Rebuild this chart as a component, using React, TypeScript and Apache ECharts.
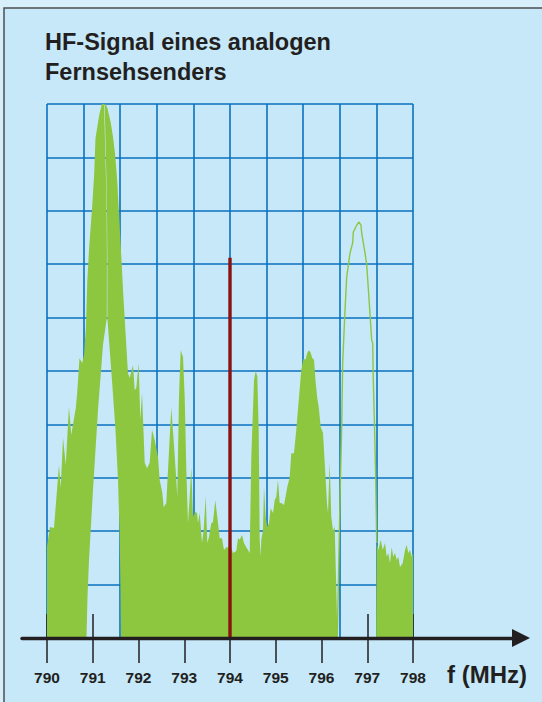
import React, { useEffect, useRef } from "react";
import * as echarts from "echarts";

// Frequency axis (MHz)
const freqMin = 790;
const freqMax = 798;
const freqStep = 1;

// Spectrum outline (path order, MHz / relative level 0..100)
const specF = [
  790.0, 790.0, 790.066, 790.153, 790.21, 790.262, 790.3, 790.35, 790.41, 790.48, 790.53, 790.63, 790.66,
  790.71, 790.77, 790.81, 790.85, 790.88, 790.92, 790.99, 791.03, 791.06, 791.14, 791.2, 791.245,
  791.3, 791.31, 791.307, 791.224, 791.115, 791.005, 790.918, 790.885, 790.863,
  791.617, 791.607, 791.585, 791.552, 791.497, 791.42, 791.355, 791.32, 791.32, 791.309, 791.259,
  791.318, 791.392, 791.443, 791.486, 791.537, 791.611, 791.668, 791.72, 791.77, 791.808, 791.88,
  791.917, 791.952, 792.004, 792.039, 792.077, 792.136, 792.186, 792.245, 792.295, 792.354, 792.426,
  792.463, 792.52, 792.551, 792.608, 792.645, 792.717, 792.776, 792.826, 792.848, 792.885, 792.922,
  792.973, 793.01, 793.045, 793.082, 793.119, 793.154, 793.191, 793.242, 793.279, 793.301, 793.338,
  793.388, 793.425, 793.469, 793.504, 793.541, 793.591, 793.628, 793.679, 793.738, 793.775, 793.825,
  793.869, 793.919, 793.956, 794.028, 794.066, 794.138, 794.175, 794.212, 794.262, 794.306, 794.356,
  794.393, 794.431, 794.466, 794.525, 794.562, 794.597, 794.627, 794.649, 794.671, 794.684, 794.721,
  794.743, 794.78, 794.815, 794.852, 794.89, 794.94, 794.977, 795.012, 795.049, 795.086, 795.121,
  795.18, 795.209, 795.252, 795.305, 795.34, 795.399, 795.449, 795.508, 795.559, 795.602, 795.655,
  795.69, 795.727, 795.764, 795.799, 795.836, 795.873, 795.908, 795.939, 795.983, 796.033, 796.07,
  796.12, 796.142, 796.179, 796.214, 796.251, 796.288, 796.324, 796.345, 796.361,
  797.196, 797.207, 797.242, 797.294, 797.338, 797.388, 797.425, 797.46, 797.497, 797.534, 797.569,
  797.607, 797.644, 797.679, 797.716, 797.775, 797.825, 797.862, 797.897, 797.934, 797.972, 798.0, 798.0,
];
const specV = [
  0, 17.2, 20.8, 20.6, 26.8, 32.4, 28.1, 37.5, 32.4, 43.3, 38.0, 43.1, 45.9,
  52.4, 51.5, 53.0, 58.1, 66.7, 73.0, 81.1, 86.7, 93.6, 97.9, 100.0, 100.5,
  82.4, 71.2, 59.9, 54.9, 42.7, 27.7, 14.6, 7.7, 0,
  0, 9.0, 20.2, 29.6, 39.0, 48.3, 55.8, 59.9, 71.2, 82.4, 100.4,
  99.3, 96.6, 93.8, 90.8, 85.4, 73.6, 64.2, 56.7, 49.6, 48.7, 51.1,
  46.4, 46.8, 51.5, 40.8, 45.9, 32.8, 31.8, 32.8, 39.0, 37.1, 33.9,
  29.6, 27.2, 24.5, 25.3, 31.5, 43.1, 36.1, 29.6, 26.4, 45.1, 53.9,
  52.6, 45.1, 31.5, 21.5, 26.4, 32.0, 22.7, 23.6, 23.4, 21.5, 23.4,
  17.8, 20.2, 26.6, 17.8, 18.9, 21.5, 21.7, 25.8, 21.5, 18.7, 18.7,
  16.5, 17.0, 17.0, 16.9, 15.9, 16.3, 18.7, 18.4, 19.3, 17.8, 17.0,
  16.5, 15.9, 33.9, 48.3, 50.0, 48.9, 39.0, 18.4, 15.2, 18.4, 20.2,
  28.3, 22.7, 20.8, 21.5, 24.3, 23.4, 25.8, 26.4, 29.6, 25.3, 25.3,
  24.9, 26.2, 28.3, 30.1, 34.6, 34.6, 39.0, 45.1, 50.2, 52.2, 52.2,
  53.4, 53.9, 53.4, 52.4, 52.1, 47.8, 44.9, 43.3, 39.5, 38.4, 32.8,
  25.3, 23.4, 32.8, 22.7, 20.2, 20.8, 9.0, 1.5, 0,
  0, 17.8, 16.5, 18.4, 16.5, 17.8, 15.2, 15.9, 14.0, 17.0, 15.2,
  15.9, 14.6, 15.2, 13.3, 14.0, 16.5, 17.4, 15.9, 16.5, 15.2, 15.9, 0,
];

// Sound carrier outline (drawn as a thin line)
const soundF = [
  796.345, 796.404, 796.441, 796.463, 796.514, 796.551, 796.623, 796.682, 796.695, 796.77, 796.82,
  796.863, 796.879, 796.951, 796.988, 797.045, 797.097, 797.119, 797.132, 797.154, 797.185, 797.207,
];
const soundV = [
  0, 25.8, 39.5, 51.5, 61.4, 67.6, 72.1, 74.0, 76.0, 77.3, 77.9,
  77.3, 75.8, 72.1, 69.9, 62.7, 55.8, 55.2, 48.3, 41.4, 30.1, 17.8,
];

// Picture carrier marker
const markerF = [794, 794];
const markerV = [0, 71.2];

const titleText = "HF-Signal eines analogen\nFernsehsenders";
const axisTitle = "f (MHz)";

const FONT = "'Liberation Sans', Arial, Helvetica, sans-serif";
const GREEN = "#8dc63f";
const GRIDBLUE = "#0a72bf";
const INK = "#231f20";

export default function App() {
  const ref = useRef<HTMLDivElement>(null);
  useEffect(() => {
    if (!ref.current) return;
    const chart = echarts.init(ref.current, null, { renderer: "svg", width: 542, height: 702 });
    const spec = specF.map((f, i) => [f, specV[i]]);
    const sound = soundF.map((f, i) => [f, soundV[i]]);
    const marker = markerF.map((f, i) => [f, markerV[i]]);
    chart.setOption({
      animation: false,
      backgroundColor: "#d6effb",
      title: {
        text: titleText,
        left: 45,
        top: 27,
        padding: 0,
        textStyle: { fontFamily: FONT, fontSize: 23.5, fontWeight: "bold", color: INK, lineHeight: 30 },
      },
      graphic: [
        {
          type: "rect",
          z: -100,
          shape: { x: 4, y: 8, width: 600, height: 800 },
          style: { fill: "#c6e8f9", stroke: "#4d4d4d", lineWidth: 1.5 },
        },
        {
          type: "text",
          x: 447,
          y: 662,
          style: {
            text: axisTitle,
            font: `bold 24px ${FONT}`,
            fill: INK,
            textAlign: "left",
            textVerticalAlign: "top",
          },
        },
      ],
      grid: [
        { left: 47, right: 129, top: 104, bottom: 64 },
        { left: 22, right: 21, top: 104, bottom: 64 },
      ],
      xAxis: [
        {
          type: "value", gridIndex: 0, position: "bottom", min: freqMin, max: freqMax, interval: freqStep,
          axisLine: { show: false },
          axisTick: { show: true, inside: false, length: 25, lineStyle: { color: INK, width: 1.5 } },
          axisLabel: { show: true, margin: 31, fontFamily: FONT, fontSize: 15.5, fontWeight: "bold", color: INK },
          splitLine: { show: false },
        },
        {
          type: "value", gridIndex: 0, position: "bottom", min: freqMin, max: freqMax, interval: freqStep,
          axisLine: { show: false },
          axisTick: { show: true, inside: true, length: 24, lineStyle: { color: INK, width: 1.5 } },
          axisLabel: { show: false },
          splitLine: { show: false },
        },
        {
          type: "value", gridIndex: 0, position: "top", min: 0, max: 10, interval: 1,
          axisLine: { show: false }, axisTick: { show: false }, axisLabel: { show: false },
          splitLine: { show: true, lineStyle: { color: GRIDBLUE, width: 1.6 } },
        },
        {
          type: "value", gridIndex: 1, position: "bottom", min: 0, max: 1, z: 10,
          axisLine: {
            show: true, symbol: ["none", "triangle"], symbolSize: [18, 18],
            lineStyle: { color: INK, width: 3.4 },
          },
          axisTick: { show: false }, axisLabel: { show: false }, splitLine: { show: false },
        },
      ],
      yAxis: [
        {
          type: "value", gridIndex: 0, min: 0, max: 100, interval: 10,
          axisLine: { show: false }, axisTick: { show: false }, axisLabel: { show: false },
          splitLine: { show: true, lineStyle: { color: GRIDBLUE, width: 1.6 } },
        },
        {
          type: "value", gridIndex: 1, min: 0, max: 1, show: false,
        },
      ],
      series: [
        {
          type: "line", xAxisIndex: 0, yAxisIndex: 0, data: spec, symbol: "none", z: 3,
          lineStyle: { width: 0 }, areaStyle: { color: GREEN, opacity: 1 },
          silent: true,
        },
        {
          type: "line", xAxisIndex: 0, yAxisIndex: 0, data: sound, symbol: "none", z: 3,
          lineStyle: { width: 1.4, color: GREEN }, silent: true,
        },
        {
          type: "line", xAxisIndex: 0, yAxisIndex: 0, data: marker, symbol: "none", z: 4,
          lineStyle: { width: 3.4, color: "#8c1212" }, silent: true,
        },
      ],
    });
    return () => chart.dispose();
  }, []);
  return <div ref={ref} style={{ position: "fixed", left: 0, top: 0, width: 542, height: 702 }} />;
}
